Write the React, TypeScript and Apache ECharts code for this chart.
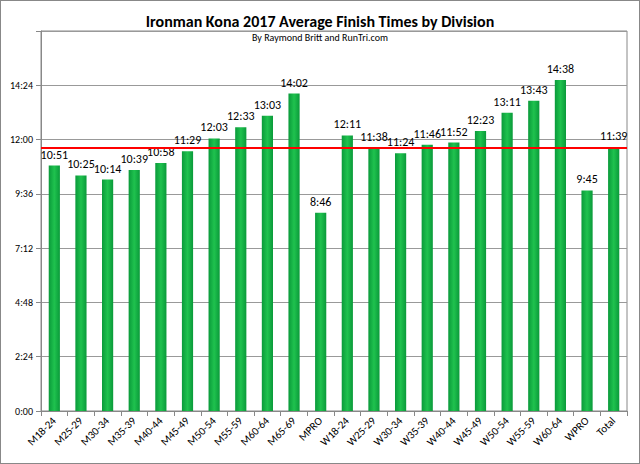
import { useEffect, useRef } from "react";
import * as echarts from "echarts";

const divisions = ["M18-24","M25-29","M30-34","M35-39","M40-44","M45-49","M50-54","M55-59","M60-64","M65-69","MPRO","W18-24","W25-29","W30-34","W35-39","W40-44","W45-49","W50-54","W55-59","W60-64","WPRO","Total"];
const finishLabels = ["10:51","10:25","10:14","10:39","10:58","11:29","12:03","12:33","13:03","14:02","8:46","12:11","11:38","11:24","11:46","11:52","12:23","13:11","13:43","14:38","9:45","11:39"];
const finishMinutes = finishLabels.map((t) => { const [h, m] = t.split(":").map(Number); return h * 60 + m; });
const overallAvg = 699;

const fmt = (v: number) => `${Math.floor(v / 60)}:${String(v % 60).padStart(2, "0")}`;

export default function App() {
  const ref = useRef<HTMLDivElement | null>(null);
  useEffect(() => {
    if (!ref.current) return;
    const chart = echarts.init(ref.current, undefined, { renderer: "svg" });
    chart.setOption({
      animation: false,
      backgroundColor: "#fff",
      textStyle: { fontFamily: "Carlito, Liberation Sans, Arial, sans-serif" },
      title: {
        text: "Ironman Kona 2017 Average Finish Times by Division",
        subtext: "By Raymond Britt and RunTri.com",
        left: "center",
        top: 7,
        itemGap: 3,
        textStyle: { fontSize: 16, fontWeight: "bold", color: "#000" },
        subtextStyle: { fontSize: 10, color: "#000" },
      },
      grid: { left: 40, right: 12, top: 30, bottom: 52, show: true, borderColor: "#888", borderWidth: 1 },
      xAxis: {
        type: "category",
        data: divisions,
        axisLine: { lineStyle: { color: "#888" } },
        axisTick: { show: true, lineStyle: { color: "#888" } },
        axisLabel: { rotate: 45, color: "#000", fontSize: 11, interval: 0 },
      },
      yAxis: {
        type: "value",
        min: 0,
        max: 1008,
        interval: 144,
        axisLine: { show: true, lineStyle: { color: "#888" } },
        axisTick: { show: true, lineStyle: { color: "#888" } },
        axisLabel: { color: "#000", fontSize: 10, formatter: (v: number) => (v >= 1008 ? "" : fmt(v)) },
        splitLine: { lineStyle: { color: "#999" } },
      },
      series: [
        {
          type: "bar",
          data: finishMinutes,
          barWidth: "42%",
          itemStyle: {
            color: new echarts.graphic.LinearGradient(0, 0, 1, 0, [
              { offset: 0, color: "#0a9a3a" },
              { offset: 0.5, color: "#1fc24e" },
              { offset: 1, color: "#0a9a3a" },
            ]),
          },
          label: { show: true, position: "top", color: "#000", fontSize: 12, formatter: (p: any) => finishLabels[p.dataIndex] },
          markLine: {
            silent: true,
            symbol: "none",
            label: { show: false },
            lineStyle: { color: "#ff0000", width: 2, type: "solid" },
            data: [{ yAxis: overallAvg }],
          },
        },
      ],
    });
    return () => chart.dispose();
  }, []);
  return (
    <div
      ref={ref}
      style={{ position: "fixed", left: 0, top: 0, width: 640, height: 464, boxSizing: "border-box", border: "1px solid #888" }}
    />
  );
}
